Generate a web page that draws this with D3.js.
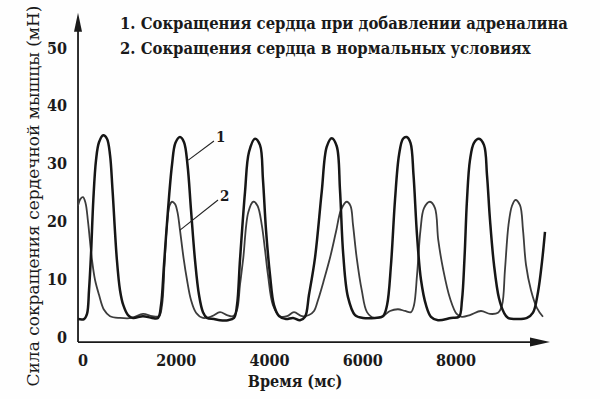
<!DOCTYPE html>
<html>
<head>
<meta charset="utf-8">
<script src="https://cdn.jsdelivr.net/npm/d3@7"></script>
<style>
  body { margin: 0; background: #fefefe; }
  svg { display: block; }
  .bold { font-family: "DejaVu Serif", serif; font-stretch: condensed; font-weight: bold; fill: #1a1a1a; }
  .reg { font-family: "DejaVu Serif", serif; fill: #1a1a1a; }
</style>
</head>
<body>
<div id="main"></div>
<script>
const w = 600, h = 399;

// Сокращения сердца при добавлении адреналина (время, мс / сила, мН)
const adrTime = [-95, 35, 99, 142, 184, 234, 292, 356, 448, 527, 592, 646, 736, 806, 877, 977, 1085, 1299, 1492,
  1621, 1685, 1749, 1835, 1921, 1995, 2092, 2178, 2253, 2328, 2414, 2499, 2585, 2671, 2821, 2950, 3121,
  3250, 3314, 3378, 3486, 3571, 3700, 3807, 3871, 3936, 4022, 4107, 4215, 4364, 4515, 4664,
  4772, 4857, 4986, 5130, 5237, 5344, 5452, 5522, 5592, 5693, 5844, 6015, 6272, 6443,
  6530, 6615, 6701, 6787, 6873, 6952, 7033, 7098, 7173, 7258, 7366, 7472, 7623, 7902, 8073,
  8137, 8191, 8244, 8308, 8394, 8501, 8609, 8673, 8738, 8823, 8930, 9037, 9123, 9337, 9531, 9659, 9767, 9852, 9916];
const adrForce = [3.1, 3.1, 4.0, 8.1, 14.2, 23.7, 30.6, 33.7, 34.9, 34.3, 31.5, 25.4, 13.7, 8.1, 5.5, 3.8, 3.3, 3.6, 3.3,
  3.3, 5.5, 12.5, 22.0, 29.8, 33.6, 34.6, 33.7, 29.8, 22.0, 13.3, 7.3, 4.3, 3.3, 3.1, 2.9, 2.9,
  3.3, 5.5, 13.3, 25.1, 32.0, 34.3, 33.2, 27.2, 18.5, 10.7, 5.5, 3.6, 3.1, 3.3, 2.9,
  3.5, 7.3, 13.7, 25.1, 32.9, 34.4, 33.0, 25.4, 14.2, 6.9, 3.8, 3.3, 3.3, 3.6,
  5.5, 12.5, 23.7, 31.5, 34.3, 34.6, 33.6, 28.0, 17.6, 9.9, 5.5, 3.5, 2.9, 3.3, 3.5,
  6.4, 13.7, 23.7, 30.6, 33.6, 34.3, 33.2, 28.0, 20.2, 12.5, 6.7, 4.2, 3.3, 3.1, 3.3, 4.2, 7.8, 13.0, 18.2];

// Сокращения сердца в нормальных условиях
const normTime = [-95, -41, 13, 67, 121, 200, 270, 356, 463, 592, 806, 1063, 1299, 1492, 1642,
  1707, 1760, 1813, 1867, 1921, 1985, 2038, 2092, 2168, 2242, 2328, 2436, 2585, 2778, 2950, 3100, 3229,
  3314, 3378, 3449, 3556, 3664, 3754, 3845, 3914, 3979, 4085, 4236, 4386, 4536, 4707, 4857,
  4965, 5051, 5179, 5308, 5436, 5544, 5666, 5747, 5801, 5880, 5988, 6101, 6251, 6422, 6594, 6765, 6916, 7044,
  7108, 7173, 7247, 7323, 7451, 7558, 7628, 7736, 7880, 8023, 8137, 8308, 8544, 8738, 8909,
  8995, 9058, 9134, 9209, 9283, 9380, 9445, 9509, 9616, 9745, 9873];
const normForce = [22.7, 23.9, 24.2, 23.2, 19.9, 13.7, 9.9, 7.3, 4.7, 3.6, 3.3, 3.3, 4.0, 3.6, 3.6,
  5.5, 12.5, 19.4, 22.7, 23.4, 23.0, 21.6, 18.5, 13.7, 9.9, 6.4, 4.2, 3.3, 3.6, 4.3, 3.8, 3.6,
  4.7, 9.0, 13.7, 21.6, 23.4, 22.7, 19.4, 15.1, 10.7, 5.5, 3.6, 3.6, 4.3, 3.6, 3.8,
  4.5, 6.4, 9.9, 13.7, 18.2, 22.0, 23.4, 22.7, 19.4, 13.7, 8.1, 4.3, 3.3, 3.5, 4.5, 4.8, 4.5, 4.3,
  5.5, 10.7, 18.5, 22.3, 23.4, 22.3, 16.8, 11.6, 6.7, 4.0, 3.5, 3.8, 4.5, 4.0, 4.2,
  5.5, 11.6, 19.4, 22.7, 23.7, 22.8, 18.5, 12.5, 8.1, 5.0, 3.5];

const xTicks = [0, 2000, 4000, 6000, 8000];
const yTicks = [0, 10, 20, 30, 40, 50];
const legendLines = ['1. Сокращения сердца при добавлении адреналина', '2. Сокращения сердца в нормальных условиях'];
const xTitle = 'Время (мс)';
const yTitle = 'Сила сокращения сердечной мышцы (мН)';
// номер кривой, точка на кривой и конец выноски (мс, мН)
const callouts = [
  { label: '1', from: [2270, 30.6], to: [2820, 33.9] },
  { label: '2', from: [2092, 18.5], to: [2907, 23.7] }
];

const x = d3.scaleLinear().domain([0, 8000]).range([82.4, 455.6]);
const y = d3.scaleLinear().domain([0, 50]).range([337, 48]);
const xStart = -94, xEnd = 10024, yBase = -0.87, yTop = 56.1;

const svg = d3.select('#main').append('svg')
  .attr('width', w).attr('height', h);

// axes
svg.append('line')
  .attr('x1', x(xStart)).attr('x2', x(xEnd) - 12)
  .attr('y1', y(yBase)).attr('y2', y(yBase))
  .attr('stroke', '#1a1a1a').attr('stroke-width', 1.8);
svg.append('path')
  .attr('d', `M${x(xEnd)},${y(yBase)} L${x(xEnd) - 20},${y(yBase) - 4.5} L${x(xEnd) - 20},${y(yBase) + 4.5} Z`)
  .attr('fill', '#1a1a1a');

svg.append('line')
  .attr('x1', x(xStart)).attr('x2', x(xStart))
  .attr('y1', y(yBase)).attr('y2', y(yTop) + 12)
  .attr('stroke', '#1a1a1a').attr('stroke-width', 1.8);
svg.append('path')
  .attr('d', `M${x(xStart)},${y(yTop)} L${x(xStart) - 4},${y(yTop) + 19} L${x(xStart) + 4},${y(yTop) + 19} Z`)
  .attr('fill', '#1a1a1a');

const xAxis = d3.axisBottom(x).tickValues(xTicks).tickSize(0).tickPadding(0).tickFormat(d => d);
const gx = svg.append('g')
  .attr('transform', `translate(0,${y(yBase)})`)
  .call(xAxis);
gx.select('.domain').remove();
gx.selectAll('text')
  .attr('class', 'bold')
  .attr('dy', null)
  .attr('y', 24)
  .style('font-size', '16px');

const yAxis = d3.axisLeft(y).tickValues(yTicks).tickSize(0).tickPadding(0);
const gy = svg.append('g')
  .attr('transform', 'translate(67,0)')
  .call(yAxis);
gy.select('.domain').remove();
gy.selectAll('text')
  .attr('class', 'bold')
  .style('font-size', '16px');

// curves
const line = d3.line()
  .x(d => x(d[0]))
  .y(d => y(d[1]))
  .curve(d3.curveCatmullRom.alpha(0.5));

svg.append('path')
  .datum(d3.zip(normTime, normForce))
  .attr('d', line)
  .attr('fill', 'none')
  .attr('stroke', '#3c3c3c')
  .attr('stroke-width', 1.8);

svg.append('path')
  .datum(d3.zip(adrTime, adrForce))
  .attr('d', line)
  .attr('fill', 'none')
  .attr('stroke', '#161616')
  .attr('stroke-width', 2.5);

// callouts
callouts.forEach(c => {
  svg.append('line')
    .attr('x1', x(c.from[0])).attr('y1', y(c.from[1]))
    .attr('x2', x(c.to[0])).attr('y2', y(c.to[1]))
    .attr('stroke', '#222').attr('stroke-width', 1.1);
  svg.append('text')
    .attr('class', 'bold')
    .attr('x', x(c.to[0]) + 2).attr('y', y(c.to[1]) + 1)
    .style('font-size', '15px')
    .text(c.label);
});

// legend
svg.selectAll('.legend')
  .data(legendLines)
  .enter()
  .append('text')
  .attr('class', 'bold legend')
  .attr('x', 120)
  .attr('y', (d, i) => 29 + i * 25)
  .style('font-size', '16.5px')
  .text(d => d);

// titles
svg.append('text')
  .attr('class', 'bold')
  .attr('x', 295).attr('y', 387)
  .attr('text-anchor', 'middle')
  .style('font-size', '16px')
  .text(xTitle);

svg.append('text')
  .attr('class', 'reg')
  .attr('transform', 'translate(39,196) rotate(-90)')
  .attr('text-anchor', 'middle')
  .style('font-size', '17px')
  .text(yTitle);
</script>
</body>
</html>
